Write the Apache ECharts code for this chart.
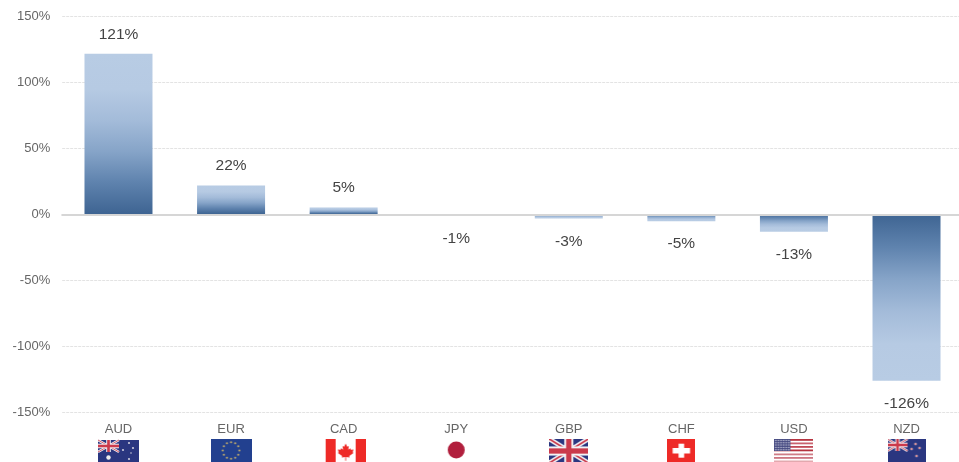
<!DOCTYPE html>
<html><head><meta charset="utf-8">
<style>html,body{margin:0;padding:0;background:#fff;overflow:hidden}#c{width:959px;height:462px}</style>
<script src="https://cdn.jsdelivr.net/npm/echarts@6/dist/echarts.min.js"></script>
</head><body><div id="c"></div>
<script>
const categories = ['AUD','EUR','CAD','JPY','GBP','CHF','USD','NZD'];
const values = [121.4, 21.6, 5, -1, -3.4, -5.4, -13.4, -126.4];
const yTicks = {min:-150, max:150, step:50};
const flagSizes = {AUD:[41,24],EUR:[41,24],CAD:[44,24],JPY:[19,24],GBP:[39,24],CHF:[28,24],USD:[39,24],NZD:[38,24]};

const NAVY='#2a3680', RED='#cb3a4c', BRIGHT='#ee2a27';
function union(g,w,h){
  g.fillStyle=NAVY; g.fillRect(0,0,w,h);
  g.strokeStyle='#f3f3f6'; g.lineWidth=h*0.2;
  g.beginPath(); g.moveTo(0,0); g.lineTo(w,h); g.moveTo(w,0); g.lineTo(0,h); g.stroke();
  g.strokeStyle=RED; g.lineWidth=h*0.07;
  g.beginPath(); g.moveTo(0,0); g.lineTo(w,h); g.moveTo(w,0); g.lineTo(0,h); g.stroke();
  g.fillStyle='#f3f3f6'; g.fillRect(0,h*0.31,w,h*0.38); g.fillRect(w/2-h*0.19,0,h*0.38,h);
  g.fillStyle=RED; g.fillRect(0,h*0.39,w,h*0.22); g.fillRect(w/2-h*0.11,0,h*0.22,h);
}
function dot(g,x,y,r,c){g.fillStyle=c;g.beginPath();g.arc(x,y,r,0,Math.PI*2);g.fill();}
const painters = {
  AUD(g,w,h){ g.fillStyle=NAVY;g.fillRect(0,1,w,h); g.save(); g.translate(0,1); union(g,21,12); g.restore();
    dot(g,10.5,18.5,2.2,'#eee'); dot(g,31,4,1.1,'#ccd'); dot(g,25,11,1.1,'#ccd'); dot(g,35,9,1.1,'#ccd'); dot(g,31,20,1.1,'#ccd'); dot(g,33,14,.8,'#ccd'); },
  EUR(g,w,h){ g.fillStyle='#22408f';g.fillRect(0,0,w,h);
    for(let i=0;i<12;i++){const a=i*Math.PI/6; dot(g,w/2+8.3*Math.cos(a),11.5+8.3*Math.sin(a),1,'#c9b06a');} },
  CAD(g,w,h){ g.fillStyle='#fff';g.fillRect(4,0,40,h); g.fillStyle=BRIGHT; g.fillRect(4,0,10,h); g.fillRect(34,0,10,h);
    const c=24,k=.78; g.beginPath();
    [[0,2],[2,6],[4,5],[3.4,10],[6,8],[6.5,10],[10,9.5],[9,13],[10,14],[4.6,18],[5,20],[.5,19.3],[.5,24],[-.5,24],[-.5,19.3],[-5,20],[-4.6,18],[-10,14],[-9,13],[-10,9.5],[-6.5,10],[-6,8],[-3.4,10],[-4,5],[-2,6]]
      .forEach((p,i)=> i? g.lineTo(c+p[0]*k,3+p[1]*k):g.moveTo(c+p[0]*k,3+p[1]*k));
    g.closePath(); g.fill(); },
  JPY(g,w,h){ dot(g,w/2,11,8.5,'#b11f3d'); },
  GBP(g,w,h){ union(g,w,h); },
  CHF(g,w,h){ g.fillStyle=BRIGHT;g.fillRect(0,0,w,h); g.fillStyle='#fff'; g.fillRect(w/2-8.7,9,17.4,5.5); g.fillRect(w/2-2.8,4.7,5.6,14); },
  USD(g,w,h){ g.fillStyle='#fff';g.fillRect(0,0,w,h);
    [[0,'#b5333f'],[3.5,'#c9636f'],[7,'#c04a56'],[10.5,'#b5333f'],[14.5,'#cf7c86'],[18,'#cd7682'],[21.5,'#e3a8ae']].forEach(s=>{g.fillStyle=s[1];g.fillRect(0,s[0],w,1.8);});
    g.fillStyle='#474b82'; g.fillRect(0,0,16,12);
    for(let r=0;r<5;r++)for(let k=0;k<6;k++) dot(g,1.5+k*2.6,1.5+r*2.3,.75,'#c6c8dc'); },
  NZD(g,w,h){ g.fillStyle=NAVY;g.fillRect(0,0,w,h); union(g,20,12);
    [[28,5],[32,9],[24,10],[29,17]].forEach(p=>{dot(g,p[0],p[1],1.3,'#ddd');dot(g,p[0],p[1],.8,'#c8293f');}); }
};
function flag(code){
  const [w,h]=flagSizes[code], S=1, cv=document.createElement('canvas');
  cv.width=w*S; cv.height=h*S; const g=cv.getContext('2d'); g.scale(S,S); painters[code](g,w,h); return cv;
}
const rich={t:{fontFamily:'Liberation Sans',fontSize:13,color:'#666',lineHeight:19,align:'center',verticalAlign:'middle'}};
categories.forEach(c=>{const [w,h]=flagSizes[c]; rich['f'+c]={width:w,height:h,align:'center',backgroundColor:{image:flag(c)}};});

function grad(v){
  const s=[[0,'#b8cce4'],[0.22,'#b6cae3'],[0.42,'#a3bbd9'],[0.61,'#86a4c8'],[0.8,'#5f83ae'],[1,'#3e6492']];
  return new echarts.graphic.LinearGradient(0,0,0,1,(v>=0?s:s.map(p=>[1-p[0],p[1]]).reverse()).map(p=>({offset:p[0],color:p[1]})));
}
const chart=echarts.init(document.getElementById('c'),null,{renderer:'canvas'});
chart.setOption({
  animation:false, backgroundColor:'#fff',
  grid:{left:62.2,top:16,width:900.6,height:396,containLabel:false,outerBoundsMode:'none'},
  xAxis:[
    {type:'category',data:categories,position:'bottom',axisLine:{show:false,onZero:false},axisTick:{show:false},
     axisLabel:{margin:8,interval:0,formatter:v=>`{t|${v}}\n{f${v}|}`,rich:rich}},
    {type:'category',data:categories,position:'bottom',offset:-197,axisLine:{onZero:false,lineStyle:{color:'#d6d6d6',width:2}},axisTick:{show:false},axisLabel:{show:false},z:5}
  ],
  yAxis:{type:'value',min:yTicks.min,max:yTicks.max,interval:yTicks.step,
    axisLine:{show:false},axisTick:{show:false},
    axisLabel:{margin:12,padding:[2,0,0,0],fontFamily:'Liberation Sans',fontSize:13,color:'#666',formatter:'{value}%'},
    splitLine:{lineStyle:{color:'#e3e3e3',width:1,type:[3,1]}}},
  series:[{type:'bar',barWidth:68,xAxisIndex:0,
    data:values.map(v=>({value:v,itemStyle:{color:grad(v)},label:{distance:v<0?15:11.5}})),
    label:{show:true,position:'outside',fontFamily:'Liberation Sans',fontSize:15.5,color:'#444',
      formatter:p=>Math.round(p.value)+'%'}}]
});
</script></body></html>
